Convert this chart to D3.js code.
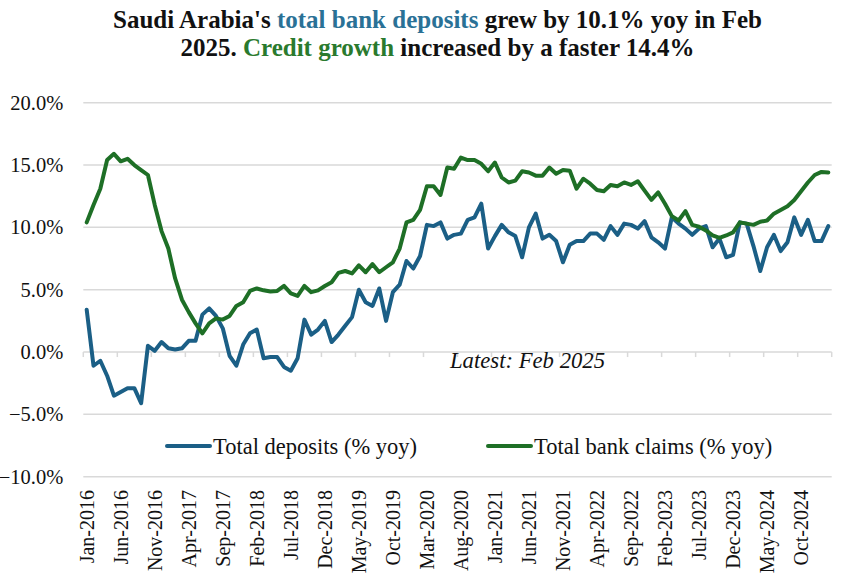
<!DOCTYPE html>
<html>
<head>
<meta charset="utf-8">
<script src="https://cdn.jsdelivr.net/npm/d3@7"></script>
<style>
  html, body { margin: 0; padding: 0; background: #ffffff; }
  svg { display: block; font-family: "Liberation Serif", "Times New Roman", serif; }
</style>
</head>
<body>
<svg id="chart" width="845" height="577"></svg>
<script>
// Monthly series, Jan-2016 .. Feb-2025 (% yoy)
const startYear = 2016;
const monthCount = 110;
const monthNames = ["Jan","Feb","Mar","Apr","May","Jun","Jul","Aug","Sep","Oct","Nov","Dec"];
const months = d3.range(monthCount).map(i =>
  monthNames[i % 12] + "-" + (startYear + Math.floor(i / 12)));

const depositsYoY = [
  3.4, -1.1, -0.7, -1.9, -3.5, -3.2, -2.9, -2.9, -4.1, 0.5,
  0.1, 0.8, 0.3, 0.2, 0.3, 0.9, 0.9, 3.0, 3.5, 2.9,
  1.9, -0.3, -1.1, 0.6, 1.5, 1.8, -0.5, -0.4, -0.4, -1.2,
  -1.5, -0.5, 2.6, 1.4, 1.8, 2.5, 0.8, 1.4, 2.1, 2.8,
  5.0, 4.0, 3.7, 5.1, 2.5, 4.8, 5.4, 7.3, 6.7, 7.7,
  10.2, 10.1, 10.4, 9.1, 9.4, 9.5, 10.6, 10.8, 11.9, 8.3,
  9.3, 10.2, 9.6, 9.3, 7.6, 10.0, 11.1, 9.1, 9.4, 8.9,
  7.2, 8.6, 8.9, 8.9, 9.5, 9.5, 9.0, 10.1, 9.4, 10.3,
  10.2, 9.9, 10.5, 9.2, 8.8, 8.3, 10.8, 10.3, 9.9, 9.4,
  9.9, 10.1, 8.4, 9.1, 7.6, 7.8, 10.4, 10.3, 8.5, 6.5,
  8.4, 9.4, 8.1, 8.8, 10.8, 9.4, 10.6, 8.9, 8.9, 10.1
];

const claimsYoY = [
  10.4, 11.8, 13.1, 15.4, 15.9, 15.3, 15.5, 15.0, 14.6, 14.2,
  11.8, 9.7, 8.3, 5.9, 4.2, 3.2, 2.3, 1.5, 2.3, 2.7,
  2.6, 2.9, 3.7, 4.0, 4.9, 5.1, 4.95, 4.85, 4.9, 5.3,
  4.7, 4.5, 5.3, 4.8, 4.95, 5.3, 5.6, 6.35, 6.5, 6.3,
  6.95, 6.4, 7.05, 6.4, 6.8, 7.2, 8.3, 10.4, 10.6, 11.4,
  13.3, 13.3, 12.6, 14.8, 14.7, 15.6, 15.4, 15.4, 15.1, 14.5,
  15.2, 14.0, 13.6, 13.75, 14.5, 14.4, 14.15, 14.15, 14.8, 14.3,
  14.6, 14.55, 13.1, 13.9, 13.5, 13.0, 12.9, 13.4, 13.3, 13.6,
  13.4, 13.7, 12.95, 12.2, 12.8, 11.9, 10.9, 10.55, 11.3, 10.2,
  10.05, 9.75, 9.35, 9.15, 9.35, 9.6, 10.4, 10.3, 10.2, 10.45,
  10.55, 11.1, 11.4, 11.7, 12.2, 12.9, 13.6, 14.2, 14.45, 14.4
];

const yTicks = [-10, -5, 0, 5, 10, 15, 20];
const labelEvery = 5;

const seriesNames = ["Total deposits (% yoy)", "Total bank claims (% yoy)"];
const seriesColors = ["#1b5f86", "#1e6f26"];

const svg = d3.select("#chart");
const plot = { left: 83.3, right: 831.7, top: 102.7, bottom: 476.7 };

const x = d3.scaleBand().domain(months).range([plot.left, plot.right]).padding(0);
const y = d3.scaleLinear().domain([-10, 20]).range([plot.bottom, plot.top]);
const cx = m => x(m) + x.bandwidth() / 2;

// Title
const title = svg.append("text")
  .attr("text-anchor", "middle")
  .attr("font-weight", "bold")
  .attr("font-size", 25)
  .attr("fill", "#111");
const t1 = title.append("tspan").attr("x", 437.5).attr("y", 28);
t1.append("tspan").text("Saudi Arabia's ");
t1.append("tspan").attr("fill", "#2a7196").text("total bank deposits");
t1.append("tspan").text(" grew by 10.1% yoy in Feb");
const t2 = title.append("tspan").attr("x", 437.5).attr("y", 56);
t2.append("tspan").text("2025. ");
t2.append("tspan").attr("fill", "#2a7a2e").text("Credit growth");
t2.append("tspan").text(" increased by a faster 14.4%");

// Horizontal gridlines
svg.append("g")
  .selectAll("line")
  .data(yTicks.filter(v => v !== 0))
  .join("line")
  .attr("x1", plot.left).attr("x2", plot.right)
  .attr("y1", d => y(d)).attr("y2", d => y(d))
  .attr("stroke", "#d9d9d9").attr("stroke-width", 1.5);

// Y axis labels
const yAxis = d3.axisLeft(y).tickValues(yTicks)
  .tickFormat(d => d3.format(".1f")(d) + "%")
  .tickSize(0).tickPadding(20);
const gy = svg.append("g").attr("transform", `translate(${plot.left},0)`).call(yAxis);
gy.attr("font-family", null).attr("font-size", null);
gy.select(".domain").remove();
gy.selectAll("text")
  .attr("font-size", 20.5).attr("fill", "#111");

// X axis along the zero line
const tickMonths = months.filter((m, i) => i % labelEvery === 0);
const gx = svg.append("g").attr("transform", `translate(0,${y(0)})`);
gx.append("line")
  .attr("x1", plot.left).attr("x2", plot.right)
  .attr("stroke", "#d9d9d9").attr("stroke-width", 1.5);
gx.selectAll("line.tick")
  .data(tickMonths.map(m => x(m)).concat([plot.right]))
  .join("line").attr("class", "tick")
  .attr("x1", d => d).attr("x2", d => d)
  .attr("y1", 0).attr("y2", 5)
  .attr("stroke", "#d9d9d9").attr("stroke-width", 1.5);

// Month labels below the plot, rotated
svg.append("g")
  .selectAll("text")
  .data(tickMonths)
  .join("text")
  .attr("transform", d => `translate(${cx(d)},490) rotate(-90)`)
  .attr("text-anchor", "end")
  .attr("dy", "0.35em")
  .attr("font-size", 20)
  .attr("fill", "#111")
  .text(d => d);

// Lines
const line = d3.line()
  .x((d, i) => cx(months[i]))
  .y(d => y(d));

[depositsYoY, claimsYoY].forEach((vals, k) => {
  svg.append("path")
    .datum(vals)
    .attr("d", line)
    .attr("fill", "none")
    .attr("stroke", seriesColors[k])
    .attr("stroke-width", 4)
    .attr("stroke-linejoin", "round")
    .attr("stroke-linecap", "round");
});

// Annotation
svg.append("text")
  .attr("x", 450).attr("y", 368)
  .attr("font-style", "italic")
  .attr("font-size", 22.7)
  .attr("fill", "#111")
  .text("Latest: Feb 2025");

// Legend
const legendPos = [{ x1: 167, x2: 210 }, { x1: 488, x2: 531 }];
const lg = svg.append("g");
seriesNames.forEach((name, k) => {
  lg.append("line")
    .attr("x1", legendPos[k].x1).attr("x2", legendPos[k].x2)
    .attr("y1", 446).attr("y2", 446)
    .attr("stroke", seriesColors[k]).attr("stroke-width", 4)
    .attr("stroke-linecap", "round");
  lg.append("text")
    .attr("x", legendPos[k].x2 + 3).attr("y", 446)
    .attr("dy", "0.35em")
    .attr("font-size", 22.5)
    .attr("fill", "#111")
    .text(name);
});
</script>
</body>
</html>
